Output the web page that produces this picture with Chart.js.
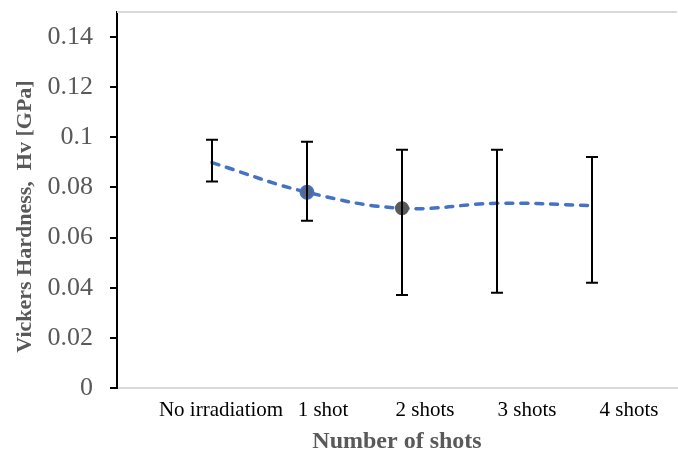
<!DOCTYPE html>
<html>
<head>
<meta charset="utf-8">
<script src="https://cdn.jsdelivr.net/npm/chart.js@4"></script>
<style>
  html, body { margin: 0; padding: 0; background: #fff; }
  #wrap { width: 678px; height: 452px; }
</style>
</head>
<body>
<div id="wrap"><canvas id="grafica"></canvas></div>
<script>
const categorias = ['No irradiatiom', '1 shot', '2 shots', '3 shots', '4 shots'];
const dureza = [0.0899, 0.0781, 0.0717, 0.0737, 0.0728];
const errorAlto = [0.0990, 0.0982, 0.0950, 0.0950, 0.0922];
const errorBajo = [0.0824, 0.0667, 0.0371, 0.0380, 0.0420];
const yTicks = [0, 0.02, 0.04, 0.06, 0.08, 0.1, 0.12, 0.14];

const fuente = "'Liberation Serif', 'Times New Roman', serif";

// barras de error y linea superior del area
const barrasError = {
  id: 'barrasError',
  beforeDatasetsDraw(chart) {
    const { ctx, chartArea } = chart;
    ctx.save();
    ctx.strokeStyle = '#d9d9d9';
    ctx.lineWidth = 2;
    ctx.beginPath();
    ctx.moveTo(chartArea.left, chartArea.top);
    ctx.lineTo(chartArea.right, chartArea.top);
    ctx.stroke();
    ctx.restore();
  },
  afterDatasetsDraw(chart) {
    const { ctx, scales: { x, y } } = chart;
    ctx.save();
    ctx.strokeStyle = '#000';
    ctx.lineWidth = 2;
    dureza.forEach((v, i) => {
      const px = Math.round(x.getPixelForValue(i));
      const arriba = y.getPixelForValue(errorAlto[i]);
      const abajo = y.getPixelForValue(errorBajo[i]);
      ctx.beginPath();
      ctx.moveTo(px, arriba); ctx.lineTo(px, abajo);
      ctx.moveTo(px - 6, arriba); ctx.lineTo(px + 6, arriba);
      ctx.moveTo(px - 6, abajo); ctx.lineTo(px + 6, abajo);
      ctx.stroke();
    });
    ctx.restore();
  }
};

const ctx = document.getElementById('grafica').getContext('2d');
new Chart(ctx, {
  type: 'line',
  data: {
    datasets: [{
      data: dureza.map((v, i) => ({ x: i, y: v })),
      borderColor: '#4472C4',
      borderWidth: 3.5,
      borderDash: [7, 8],
      borderCapStyle: 'round',
      tension: 0.4,
      pointRadius: [0, 6.5, 6, 0, 0],
      pointBackgroundColor: ['#4472C4', '#56698c', '#5a5a5a', '#4472C4', '#4472C4'],
      pointBorderColor: ['#4472C4', '#4472C4', '#5a5a5a', '#4472C4', '#4472C4'],
      pointBorderWidth: 2,
      xAxisID: 'x',
      yAxisID: 'y'
    }]
  },
  options: {
    responsive: true,
    maintainAspectRatio: false,
    animation: false,
    layout: { padding: { top: 12, right: 1, left: 0, bottom: 0 } },
    plugins: { legend: { display: false }, tooltip: { enabled: false } },
    scales: {
      x: { type: 'linear', display: false, min: -1.0, max: 4.895 },
      xl: {
        type: 'linear',
        position: 'bottom',
        min: -1.02,
        max: 4.47,
        afterBuildTicks: a => { a.ticks = categorias.map((c, i) => ({ value: i })); },
        afterFit: s => { s.height = 64; s.paddingLeft = 0; s.paddingRight = 0; },
        ticks: {
          callback: (v, i) => categorias[i],
          autoSkip: false,
          maxRotation: 0,
          color: '#000',
          padding: 10,
          font: { family: fuente, size: 21 }
        },
        grid: { drawOnChartArea: false, drawTicks: false },
        border: { color: '#d9d9d9', width: 2 },
        title: {
          display: true,
          text: 'Number of shots',
          color: '#595959',
          padding: { top: 0, bottom: -2 },
          font: { family: fuente, size: 24, weight: 'bold', lineHeight: 1 }
        }
      },
      y: {
        min: 0,
        max: 0.15,
        afterBuildTicks: a => { a.ticks = yTicks.map(v => ({ value: v })); },
        afterFit: s => { s.width = 117; s.paddingTop = 0; s.paddingBottom = 0; },
        ticks: {
          callback: (v, i) => String(yTicks[i]),
          color: '#595959',
          padding: 17,
          font: { family: fuente, size: 26 }
        },
        grid: { drawOnChartArea: false, color: '#000', lineWidth: 2, tickLength: 7 },
        border: { color: '#000', width: 2 },
        title: {
          display: true,
          text: 'Vickers Hardness,  Hv [GPa]      ',
          color: '#595959',
          padding: { top: 12, bottom: 0 },
          font: { family: fuente, size: 22, weight: 'bold' }
        }
      }
    }
  },
  plugins: [barrasError]
});
</script>
</body>
</html>
